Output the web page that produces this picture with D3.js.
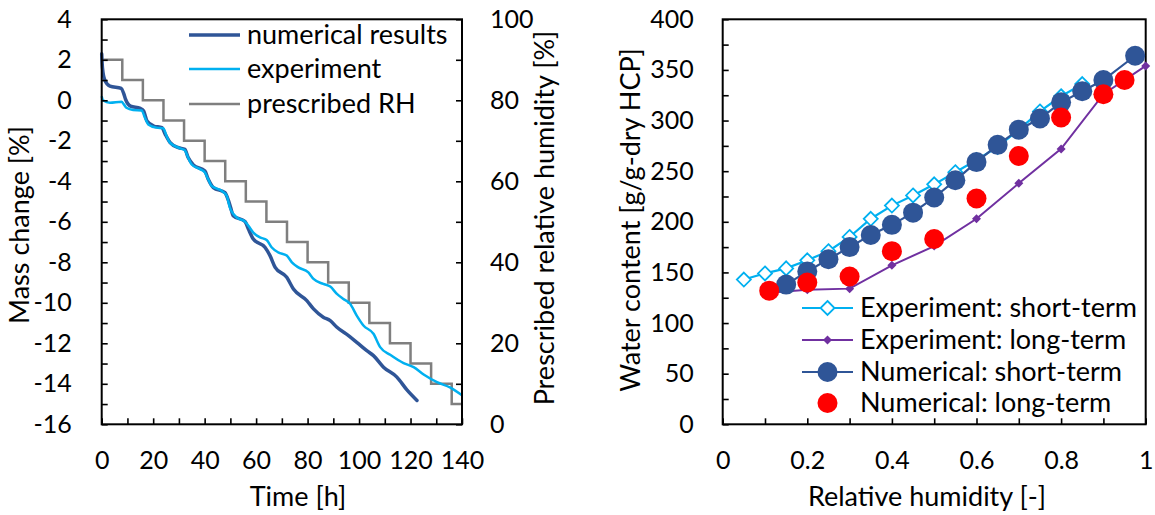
<!DOCTYPE html>
<html>
<head>
<meta charset="utf-8">
<script src="https://cdn.jsdelivr.net/npm/d3@7"></script>
<style>
  html, body { margin: 0; padding: 0; background: #fff; }
  svg { display: block; font-family: Lato, "Open Sans", sans-serif; }
</style>
</head>
<body>
<svg id="chart" width="1155" height="515"></svg>
<script>
// ---------------- Left chart data ----------------
const numTime = [0, 0.3, 1.2, 3.2, 7.6, 8.5, 9.3, 11.2, 15, 16.3, 17.6, 20.2, 23.4, 24.7, 26.6, 29.8, 32.3, 33.6, 35.6, 40.1, 41.4, 43.4, 47.9, 49.3, 50.1, 51.1, 55.7, 57, 58.9, 63.5, 65.4, 67.4, 71.9, 74.5, 79.7, 82.3, 86.1, 88.8, 91.4, 95.9, 99.1, 103, 105.6, 109.5, 114.7, 118.6, 122.5];
const numMass = [2.3, 1.6, 1.0, 0.7, 0.59, 0.35, 0.04, -0.29, -0.4, -0.53, -1.02, -1.27, -1.35, -1.68, -2.09, -2.34, -2.42, -2.83, -3.19, -3.49, -3.9, -4.31, -4.56, -4.97, -5.3, -5.7, -5.99, -6.36, -6.85, -7.27, -7.67, -8.25, -8.74, -9.32, -9.89, -10.3, -10.71, -10.88, -11.21, -11.62, -11.95, -12.36, -12.61, -13.18, -13.67, -14.3, -14.82];

const expTime = [0, 0.5, 3.2, 7.7, 8.6, 9.6, 12.2, 15.5, 16.8, 18.1, 21.3, 23.9, 25.2, 26.5, 30.4, 32.3, 33.6, 34.9, 38.2, 40.1, 41.4, 42.7, 46.6, 48.6, 49.8, 51.1, 52.5, 55.7, 57, 58.9, 61.5, 64.1, 66.1, 68.6, 71.9, 73.9, 76.4, 80.3, 82.3, 86.1, 88.8, 91.4, 93.9, 96.5, 99.1, 101.7, 105.6, 108.2, 112.1, 117.3, 121.2, 125.1, 130.3, 135.5, 140];
const expMass = [0.2, 0.0, -0.12, -0.07, -0.2, -0.37, -0.48, -0.5, -0.86, -1.19, -1.35, -1.38, -1.76, -2.09, -2.37, -2.47, -2.83, -3.16, -3.4, -3.57, -3.9, -4.23, -4.47, -4.72, -5.3, -5.6, -5.79, -5.99, -6.2, -6.53, -6.77, -6.9, -7.27, -7.51, -7.67, -8.0, -8.25, -8.5, -8.82, -9.07, -9.2, -9.56, -9.81, -10.05, -10.63, -11.12, -11.53, -12.19, -12.57, -12.98, -13.18, -13.54, -13.92, -14.19, -14.57];

const rhTime = [0, 8, 16, 24, 32, 40, 48, 56, 64, 72, 80, 88, 96, 104, 112, 120, 128, 136, 140];
const rhValue = [90, 85, 80, 75, 70, 65, 60, 55, 50, 45, 40, 35, 30, 25, 20, 15, 10, 5, 5];

const leftLegend = ["numerical results", "experiment", "prescribed RH"];
const massTicks = d3.range(-16, 5, 1);
const rhTicks = d3.range(0, 101, 10);
const timeTicks = d3.range(0, 141, 10);

// ---------------- Right chart data ----------------
const expShortRH = [0.05, 0.1, 0.15, 0.2, 0.25, 0.3, 0.35, 0.4, 0.45, 0.5, 0.55, 0.6, 0.65, 0.7, 0.75, 0.8, 0.85];
const expShortWC = [143, 149, 154, 162, 171, 185, 203, 216, 226, 237, 249, 261, 274, 291, 309, 324, 336];

const expLongRH = [0.11, 0.2, 0.3, 0.4, 0.5, 0.6, 0.7, 0.8, 0.9, 1.0];
const expLongWC = [130, 133, 134, 157, 176, 203, 238, 272, 326, 354];

const numShortRH = [0.15, 0.2, 0.25, 0.3, 0.35, 0.4, 0.45, 0.5, 0.55, 0.6, 0.65, 0.7, 0.75, 0.8, 0.85, 0.9, 0.975];
const numShortWC = [138, 151, 163, 175, 187, 197, 209, 224, 241, 259, 276, 291, 302, 318, 329, 340, 364];

const numLongRH = [0.11, 0.2, 0.3, 0.4, 0.5, 0.6, 0.7, 0.8, 0.9, 0.95];
const numLongWC = [132, 140, 146, 171, 183, 223, 265, 303, 326, 340];

const rightLegend = ["Experiment: short-term", "Experiment: long-term", "Numerical: short-term", "Numerical: long-term"];
const wcTicks = d3.range(0, 401, 25);
const rhxTicks = d3.range(0, 1.0001, 0.1).map(v => Math.round(v * 10) / 10);

// ---------------- Styles ----------------
const C_NUM = "#2F5597", C_EXP = "#00B0F0", C_RH = "#7F7F7F", C_PURPLE = "#7030A0", C_RED = "#FF0000";
const FS_TICK = 25;
const FS = 27;

const svg = d3.select("#chart");

function styleAxis(g) {
  g.select(".domain").remove();
  g.selectAll(".tick line").attr("stroke", "#000").attr("stroke-width", 1.6);
  g.selectAll(".tick text").attr("font-size", FS_TICK).attr("fill", "#000").attr("font-family", "Lato, 'Open Sans', sans-serif");
}

// ================= LEFT CHART =================
const L = { left: 101.7, right: 462, top: 19.3, bottom: 424.3 };
const xT = d3.scaleLinear().domain([0, 140]).range([L.left, L.right]);
const yM = d3.scaleLinear().domain([-16, 4]).range([L.bottom, L.top]);
const yRH = d3.scaleLinear().domain([0, 100]).range([L.bottom, L.top]);

const gl = svg.append("g");

// lines
const rhPts = rhTime.map((t, i) => [t, rhValue[i]]);
gl.append("path").datum(rhPts)
  .attr("d", d3.line().x(d => xT(d[0])).y(d => yRH(d[1])).curve(d3.curveStepAfter))
  .attr("fill", "none").attr("stroke", C_RH).attr("stroke-width", 2.5);

const expPts = expTime.map((t, i) => [t, expMass[i]]);
const numPts = numTime.map((t, i) => [t, numMass[i]]);
const lineL = d3.line().x(d => xT(d[0])).y(d => yM(d[1])).curve(d3.curveMonotoneX);

gl.append("path").datum(numPts).attr("d", lineL)
  .attr("fill", "none").attr("stroke", C_NUM).attr("stroke-width", 3.5).attr("stroke-linecap", "round");
gl.append("path").datum(expPts).attr("d", lineL)
  .attr("fill", "none").attr("stroke", C_EXP).attr("stroke-width", 2.5);

// axes
gl.append("g").attr("transform", `translate(${L.left},0)`)
  .call(d3.axisLeft(yM).tickValues(massTicks).tickSize(-6).tickPadding(30)
    .tickFormat(d => (d % 2 === 0 ? String(d) : "")))
  .call(styleAxis);
gl.append("g").attr("transform", `translate(${L.right},0)`)
  .call(d3.axisRight(yRH).tickValues(rhTicks).tickSize(-6).tickPadding(28)
    .tickFormat(d => (d % 20 === 0 ? String(d) : "")))
  .call(styleAxis);
gl.append("g").attr("transform", `translate(0,${L.bottom})`)
  .call(d3.axisBottom(xT).tickValues(timeTicks).tickSize(-6).tickPadding(27)
    .tickFormat(d => (d % 20 === 0 ? String(d) : "")))
  .call(styleAxis);

gl.append("rect").attr("x", L.left).attr("y", L.top)
  .attr("width", L.right - L.left).attr("height", L.bottom - L.top)
  .attr("fill", "none").attr("stroke", "#000").attr("stroke-width", 2);

// titles
gl.append("text").attr("x", 298).attr("y", 506).attr("text-anchor", "middle")
  .attr("font-size", FS).text("Time [h]");
gl.append("text").attr("transform", "translate(29,225) rotate(-90)").attr("text-anchor", "middle")
  .attr("font-size", FS).text("Mass change [%]");
gl.append("text").attr("transform", "translate(554,218) rotate(-90)").attr("text-anchor", "middle")
  .attr("font-size", FS).text("Prescribed relative humidity [%]");

// legend
const legL = [
  { label: leftLegend[0], color: C_NUM, w: 3.5, y: 35 },
  { label: leftLegend[1], color: C_EXP, w: 2.5, y: 69 },
  { label: leftLegend[2], color: C_RH, w: 2.5, y: 104 }
];
legL.forEach(d => {
  gl.append("line").attr("x1", 189).attr("x2", 240).attr("y1", d.y).attr("y2", d.y)
    .attr("stroke", d.color).attr("stroke-width", d.w);
  gl.append("text").attr("x", 247).attr("y", d.y).attr("dy", "0.35em")
    .attr("font-size", FS).text(d.label);
});

// ================= RIGHT CHART =================
const R = { left: 722.7, right: 1145.7, top: 19.3, bottom: 424.3 };
const xR = d3.scaleLinear().domain([0, 1]).range([R.left, R.right]);
const yW = d3.scaleLinear().domain([0, 400]).range([R.bottom, R.top]);
const gr = svg.append("g");

gr.append("g").attr("transform", `translate(${R.left},0)`)
  .call(d3.axisLeft(yW).tickValues(wcTicks).tickSize(-6).tickPadding(29)
    .tickFormat(d => (d % 50 === 0 ? String(d) : "")))
  .call(styleAxis);
gr.append("g").attr("transform", `translate(0,${R.bottom})`)
  .call(d3.axisBottom(xR).tickValues(rhxTicks).tickSize(-6).tickPadding(27)
    .tickFormat(d => (Math.round(d * 10) % 2 === 0 ? String(d) : "")))
  .call(styleAxis);

gr.append("rect").attr("x", R.left).attr("y", R.top)
  .attr("width", R.right - R.left).attr("height", R.bottom - R.top)
  .attr("fill", "none").attr("stroke", "#000").attr("stroke-width", 2);

const lineR = d3.line().x(d => xR(d[0])).y(d => yW(d[1]));
const diamond = (cx, cy, r) => `M${cx},${cy - r}L${cx + r},${cy}L${cx},${cy + r}L${cx - r},${cy}Z`;

// Experiment short-term
const esPts = expShortRH.map((x, i) => [x, expShortWC[i]]);
gr.append("path").datum(esPts).attr("d", lineR).attr("fill", "none").attr("stroke", C_EXP).attr("stroke-width", 2.2);
gr.selectAll(".es").data(esPts).enter().append("path")
  .attr("d", d => diamond(xR(d[0]), yW(d[1]), 7))
  .attr("fill", "#fff").attr("stroke", C_EXP).attr("stroke-width", 1.8);

// Experiment long-term
const elPts = expLongRH.map((x, i) => [x, expLongWC[i]]);
gr.append("path").datum(elPts).attr("d", lineR).attr("fill", "none").attr("stroke", C_PURPLE).attr("stroke-width", 2);
gr.selectAll(".el").data(elPts).enter().append("path")
  .attr("d", d => diamond(xR(d[0]), yW(d[1]), 4.5))
  .attr("fill", C_PURPLE);

// Numerical short-term
const nsPts = numShortRH.map((x, i) => [x, numShortWC[i]]);
gr.append("path").datum(nsPts).attr("d", lineR).attr("fill", "none").attr("stroke", C_NUM).attr("stroke-width", 2.2);
gr.selectAll(".ns").data(nsPts).enter().append("circle")
  .attr("cx", d => xR(d[0])).attr("cy", d => yW(d[1])).attr("r", 10).attr("fill", C_NUM);

// Numerical long-term
const nlPts = numLongRH.map((x, i) => [x, numLongWC[i]]);
gr.selectAll(".nl").data(nlPts).enter().append("circle")
  .attr("cx", d => xR(d[0])).attr("cy", d => yW(d[1])).attr("r", 10).attr("fill", C_RED);

// titles
gr.append("text").attr("x", 927).attr("y", 506).attr("text-anchor", "middle")
  .attr("font-size", FS).text("Relative humidity [-]");
gr.append("text").attr("transform", "translate(640,220) rotate(-90)").attr("text-anchor", "middle")
  .attr("font-size", FS).text("Water content [g/g-dry HCP]");

// legend
const legR = [
  { label: rightLegend[0], y: 308, line: C_EXP, mk: "openDiamond" },
  { label: rightLegend[1], y: 340, line: C_PURPLE, mk: "smallDiamond" },
  { label: rightLegend[2], y: 372, line: C_NUM, mk: "circleBlue" },
  { label: rightLegend[3], y: 403, line: null, mk: "circleRed" }
];
legR.forEach(d => {
  const cx = 827.5;
  if (d.line) gr.append("line").attr("x1", 802).attr("x2", 853).attr("y1", d.y).attr("y2", d.y)
    .attr("stroke", d.line).attr("stroke-width", 2.2);
  if (d.mk === "openDiamond") gr.append("path").attr("d", diamond(cx, d.y, 7)).attr("fill", "#fff").attr("stroke", C_EXP).attr("stroke-width", 1.8);
  if (d.mk === "smallDiamond") gr.append("path").attr("d", diamond(cx, d.y, 4.5)).attr("fill", C_PURPLE);
  if (d.mk === "circleBlue") gr.append("circle").attr("cx", cx).attr("cy", d.y).attr("r", 10).attr("fill", C_NUM);
  if (d.mk === "circleRed") gr.append("circle").attr("cx", cx).attr("cy", d.y).attr("r", 10).attr("fill", C_RED);
  gr.append("text").attr("x", 860).attr("y", d.y).attr("dy", "0.35em")
    .attr("font-size", FS).text(d.label);
});
</script>
</body>
</html>
